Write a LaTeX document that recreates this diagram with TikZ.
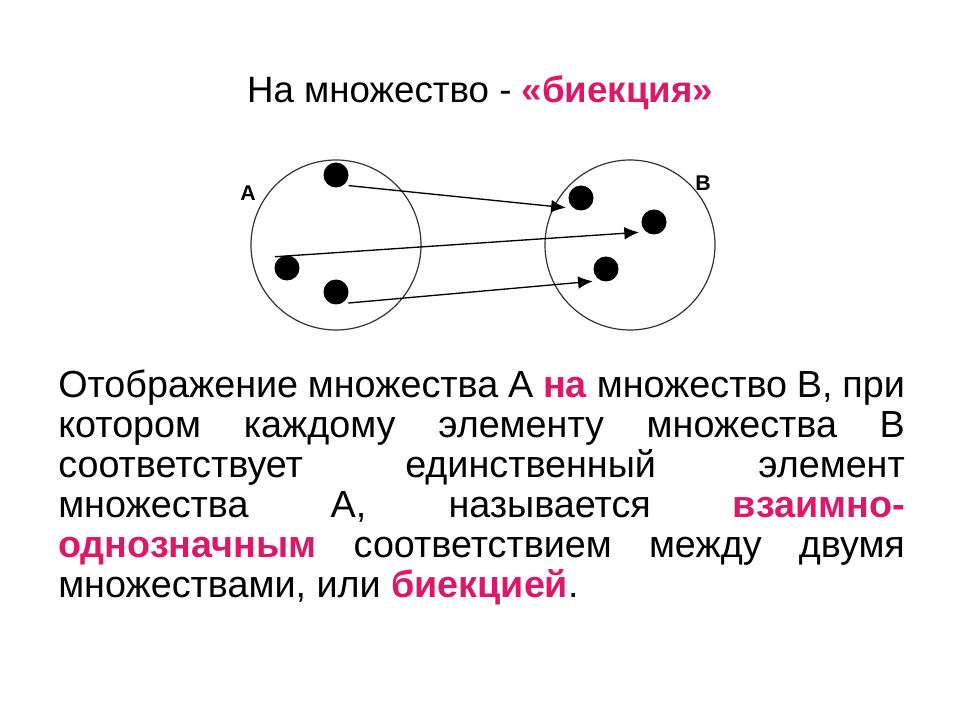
\documentclass[tikz,border=0pt]{standalone}
\usepackage{fontspec}
\setmainfont{Liberation Sans}
\usetikzlibrary{arrows.meta}

\definecolor{bijpink}{RGB}{222,24,104}
\newcommand{\hlword}[1]{\textcolor{bijpink}{\textbf{#1}}}

\begin{document}
\begin{tikzpicture}[
    x=0.75pt, y=-0.75pt, % work in pixels of the slide
    >={Latex[length=11pt,width=9.5pt]}, % Set default arrow tip style
    setcircle/.style={circle, draw=black!80, line width=0.9pt, minimum size=127.5pt, inner sep=0pt}, % The two sets
    dot/.style={circle, fill=black, inner sep=0pt, minimum size=18.75pt, outer sep=3pt}, % Elements
    maparrow/.style={->, line width=1pt, shorten >=1.5pt}, % Mapping arrows
    setlabel/.style={font=\bfseries\fontsize{16}{18}\selectfont} % Names of the sets
]

    % Fix the slide size
    \useasboundingbox (0,0) rectangle (960,720);

    % --- Title ---
    \node[anchor=base, font=\fontsize{27.5}{32}\selectfont, inner sep=0pt] (title) at (480,103)
        {На множество - \hlword{«биекция»}};

    % --- Sets A and B ---
    \node[setcircle] (setA) at (336,245) {};
    \node[setcircle] (setB) at (630,245) {};
    \node[setlabel] (labA) at (248,193) {A};
    \node[setlabel] (labB) at (703,183) {B};

    % Elements of A
    \node[dot] (a1) at (336,175) {};
    \node[dot] (a2) at (287,268) {};
    \node[dot] (a3) at (336,292) {};
    % Elements of B
    \node[dot] (b1) at (581,198) {};
    \node[dot] (b2) at (654,222) {};
    \node[dot] (b3) at (606,269) {};

    % --- Mapping ---
    \draw[maparrow] (a1.-40) -- (b1.217);
    \draw[maparrow] (a2.137) -- (b2.218);
    \draw[maparrow] (a3.-42) -- (b3.227);

    % --- Definition text ---
    \node[anchor=base west, text width=635pt, align=justify, inner sep=0pt,
          font=\fontsize{28.3}{30}\selectfont] (defn) at (58,397)
        {Отображение множества А \hlword{на} множество В, при\linebreak
         котором каждому элементу множества В\linebreak
         соответствует единственный элемент\linebreak
         множества А, называется \hlword{взаимно-}\linebreak
         \hlword{однозначным} соответствием между двумя\linebreak
         множествами, или \hlword{биекцией}.};

\end{tikzpicture}
\end{document}
